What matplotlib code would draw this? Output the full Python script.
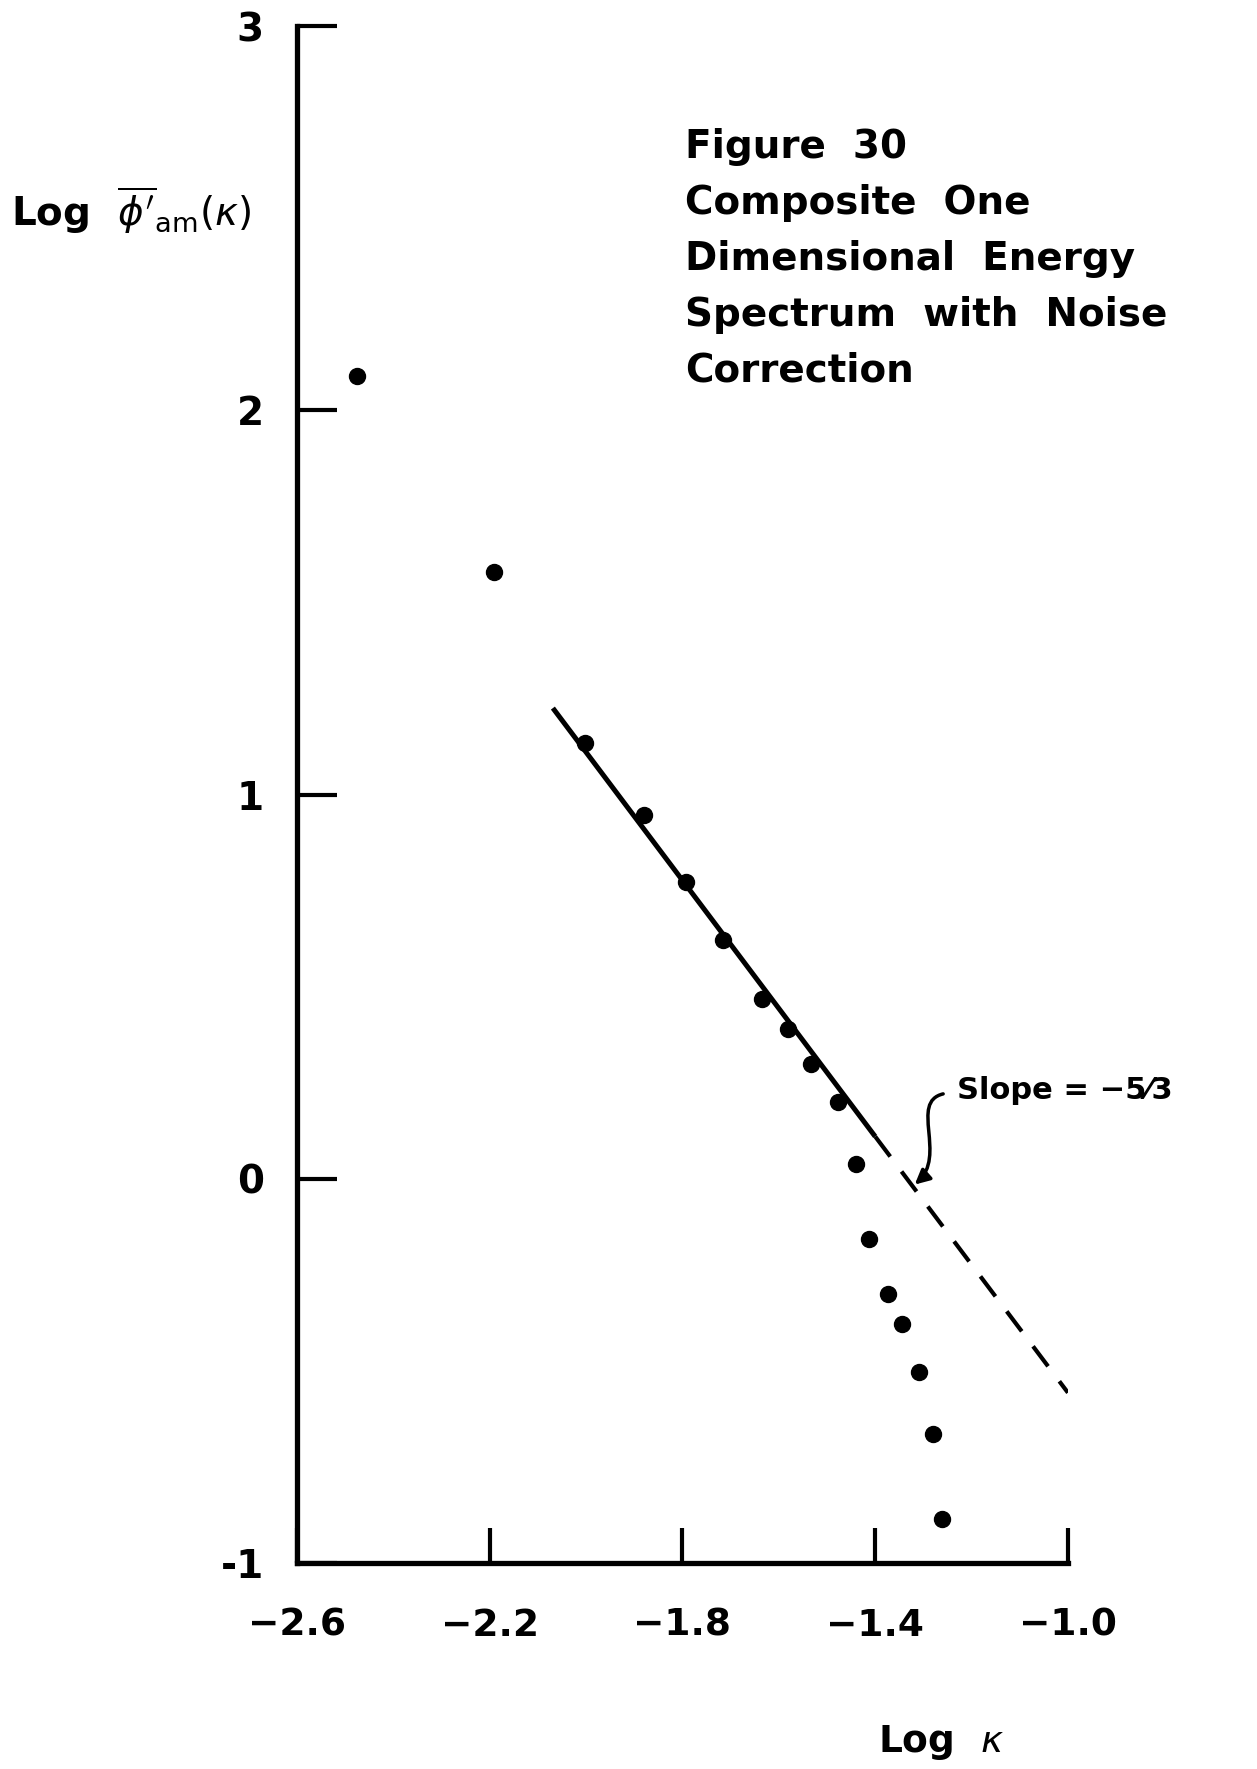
import numpy as np
import matplotlib
matplotlib.use("Agg")
import matplotlib.pyplot as plt
from matplotlib.path import Path
from matplotlib.patches import FancyArrowPatch

# Espectro compuesto: log kappa vs log phi'_am(kappa)
log_k = [-2.476, -2.191, -2.003, -1.879, -1.793, -1.716, -1.636, -1.580, -1.533,
         -1.477, -1.440, -1.412, -1.374, -1.345, -1.309, -1.281, -1.262]
log_phi = [2.089, 1.580, 1.134, 0.946, 0.772, 0.622, 0.467, 0.390, 0.299,
           0.199, 0.038, -0.156, -0.300, -0.377, -0.503, -0.665, -0.885]

# Recta de pendiente -5/3 (tramo continuo y prolongacion a trazos)
pendiente = -5 / 3
recta_x0, recta_y0 = -2.069, 1.225
recta_xc = -1.40      # fin del tramo continuo
recta_x1 = -1.0

xticks = [-2.6, -2.2, -1.8, -1.4, -1.0]
xtick_labels = ["\u22122.6", "\u22122.2", "\u22121.8", "\u22121.4", "\u22121.0"]
yticks = [-1, 0, 1, 2, 3]
ytick_labels = ["-1", "0", "1", "2", "3"]

titulo = "Figure  30\nComposite  One\nDimensional  Energy\nSpectrum  with  Noise\nCorrection"

plt.rcParams["font.family"] = ["DejaVu Sans"]
plt.rcParams["mathtext.fontset"] = "dejavusans"

fig = plt.figure(figsize=(12.57, 17.69), dpi=100)
ax = fig.add_axes([0.2363, 0.1164, 0.6133, 0.8689])

ax.plot(log_k, log_phi, "o", color="black", markersize=11.5, zorder=3)


def recta(x):
    return recta_y0 + pendiente * (np.asarray(x) - recta_x0)


xs = [recta_x0, recta_xc]
ax.plot(xs, recta(xs), color="black", lw=3.6, solid_capstyle="butt")
xd = [recta_xc, recta_x1]
ax.plot(xd, recta(xd), color="black", lw=3.0, dashes=(6, 4.5))

ax.set_xlim(-2.6, -1.0)
ax.set_ylim(-1, 3)
for s in ["top", "right"]:
    ax.spines[s].set_visible(False)
for s in ["left", "bottom"]:
    ax.spines[s].set_linewidth(3.8)

ax.set_xticks(xticks)
ax.set_xticklabels(xtick_labels, fontweight="bold")
ax.set_yticks(yticks)
ax.set_yticklabels(ytick_labels, fontweight="bold")
ax.tick_params(axis="x", direction="in", length=25, width=3, pad=32, labelsize=27)
ax.tick_params(axis="y", direction="in", length=29, width=3, pad=24, labelsize=28)

# Etiquetas de ejes
fig.text(0.009, 0.881, r"Log  $\overline{\phi^{\prime}}_{\mathrm{am}}(\kappa)$", fontsize=28,
         fontweight="bold", va="center", ha="left")
fig.text(0.749, 0.0147, r"Log  $\kappa$", fontsize=27, fontweight="bold",
         ha="center", va="center")

# Titulo de la figura
ax.text(-1.795, 2.735, titulo, fontsize=28, fontweight="bold", ha="left", va="top",
        linespacing=1.6)

# Anotacion de la pendiente
ax.text(-1.230, 0.229, "Slope = \u22125\u20443", fontsize=22, fontweight="bold",
        ha="left", va="center")
camino = Path([(-1.259, 0.221), (-1.33, 0.20), (-1.25, 0.06), (-1.318, -0.015)],
              [Path.MOVETO, Path.CURVE4, Path.CURVE4, Path.CURVE4])
ax.add_patch(FancyArrowPatch(path=camino, arrowstyle="-|>", mutation_scale=22,
                             color="black", lw=2.5))

fig.savefig("out.png", dpi=100)
